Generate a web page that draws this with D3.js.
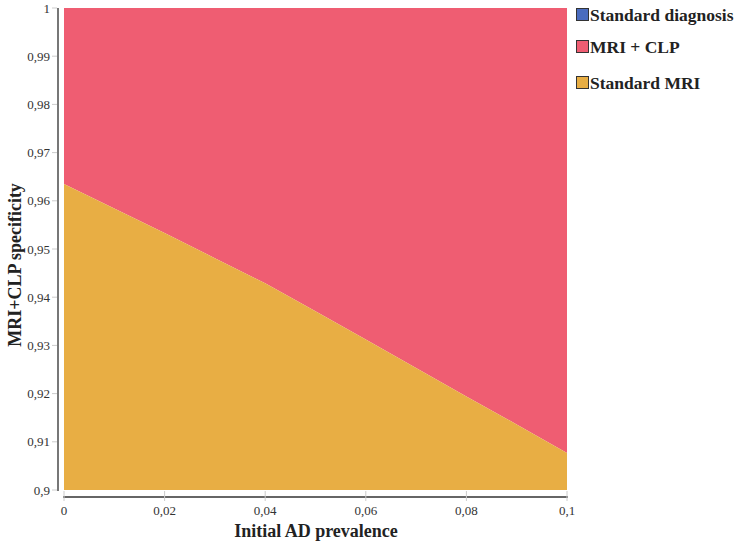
<!DOCTYPE html>
<html><head><meta charset="utf-8">
<script src="https://cdn.jsdelivr.net/npm/d3@7"></script>
<style>body{margin:0;background:#fff}</style>
</head><body>
<svg id="c" width="742" height="546"></svg>
<script>
const prevalence = [0, 0.01, 0.02, 0.03, 0.04, 0.05, 0.06, 0.07, 0.08, 0.09, 0.1];
const boundary   = [0.9635, 0.9584, 0.9533, 0.9481, 0.9429, 0.9371, 0.9312, 0.9253, 0.9194, 0.9136, 0.9077];
const xTicks = [0, 0.02, 0.04, 0.06, 0.08, 0.1];
const xTickLabels = ["0", "0,02", "0,04", "0,06", "0,08", "0,1"];
const yTicks = [0.9, 0.91, 0.92, 0.93, 0.94, 0.95, 0.96, 0.97, 0.98, 0.99, 1];
const yTickLabels = ["0,9", "0,91", "0,92", "0,93", "0,94", "0,95", "0,96", "0,97", "0,98", "0,99", "1"];
const seriesNames = ["Standard diagnosis", "MRI + CLP", "Standard MRI"];
const seriesColors = ["#4a6cbf", "#ef5d72", "#e8ae44"];

const svg = d3.select("#c");
const x = d3.scaleLinear().domain([0, 0.1]).range([64, 567]);
const y = d3.scaleLinear().domain([0.9, 1]).range([490, 8]);
const pts = prevalence.map((p, i) => ({p, v: boundary[i]}));

svg.append("path")
  .datum(pts)
  .attr("fill", seriesColors[1])
  .attr("d", d3.area().x(d => x(d.p)).y0(() => y(1)).y1(d => y(d.v)));
svg.append("path")
  .datum(pts)
  .attr("fill", seriesColors[2])
  .attr("d", d3.area().x(d => x(d.p)).y0(() => y(0.9)).y1(d => y(d.v)));

const font = "'Liberation Serif','Times New Roman',serif";

// Y axis
svg.append("line").attr("x1", 58).attr("x2", 58).attr("y1", y(1)).attr("y2", y(0.9) + 1)
  .attr("stroke", "#777").attr("stroke-width", 2);
yTicks.forEach((t, i) => {
  svg.append("line").attr("x1", 52).attr("x2", 57).attr("y1", y(t)).attr("y2", y(t))
    .attr("stroke", "#ccc").attr("stroke-width", 1);
  svg.append("text").attr("x", 50).attr("y", y(t) + 4.5).attr("text-anchor", "end")
    .attr("font-family", font).attr("font-size", 13).attr("fill", "#333").text(yTickLabels[i]);
});

// X axis
svg.append("line").attr("x1", x(0) - 1).attr("x2", x(0.1) + 1).attr("y1", 497).attr("y2", 497)
  .attr("stroke", "#666").attr("stroke-width", 2);
xTicks.forEach((t, i) => {
  svg.append("line").attr("x1", x(t)).attr("x2", x(t)).attr("y1", 491).attr("y2", 501)
    .attr("stroke", "#ccc").attr("stroke-width", 1);
  svg.append("text").attr("x", x(t)).attr("y", 515).attr("text-anchor", "middle")
    .attr("font-family", font).attr("font-size", 13).attr("fill", "#333").text(xTickLabels[i]);
});

// Axis titles
svg.append("text").attr("x", 316).attr("y", 537).attr("text-anchor", "middle")
  .attr("font-family", font).attr("font-weight", "bold").attr("font-size", 18).attr("fill", "#222")
  .text("Initial AD prevalence");
svg.append("text").attr("transform", "translate(21,265) rotate(-90)").attr("text-anchor", "middle")
  .attr("font-family", font).attr("font-weight", "bold").attr("font-size", 18).attr("fill", "#222")
  .text("MRI+CLP specificity");

// Legend
const ly = [15, 47, 83];
seriesNames.forEach((n, i) => {
  svg.append("rect").attr("x", 576.5).attr("y", ly[i] - 6.5).attr("width", 12).attr("height", 12)
    .attr("fill", seriesColors[i]).attr("stroke", "#333").attr("stroke-width", 1);
  svg.append("text").attr("x", 590).attr("y", ly[i] + 5.5).attr("font-family", font)
    .attr("font-weight", "bold").attr("font-size", 17.5).attr("fill", "#222").text(n);
});
</script>
</body></html>
